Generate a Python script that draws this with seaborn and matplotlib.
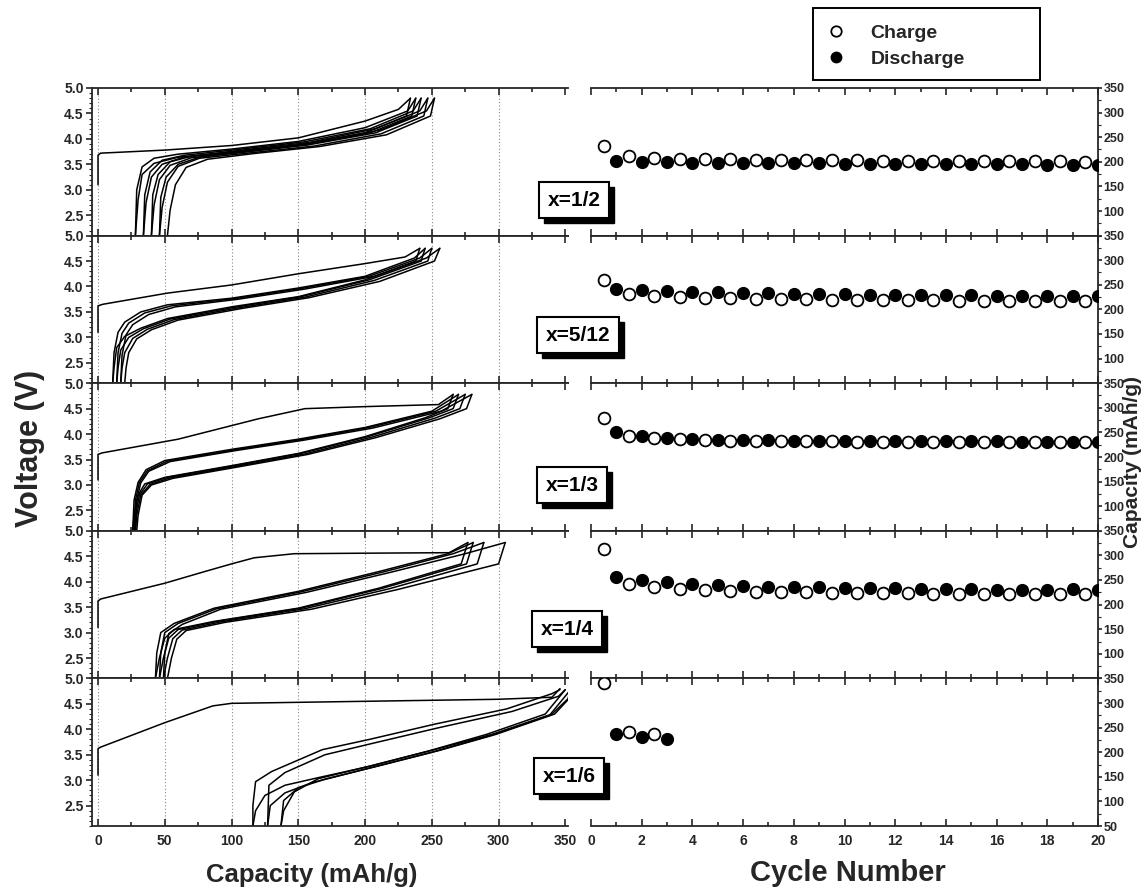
import matplotlib
matplotlib.use("Agg")
import matplotlib.pyplot as plt
from matplotlib.ticker import MultipleLocator, FixedLocator
from matplotlib.patches import Rectangle
import seaborn as sns

sns.set_style("ticks")
plt.rcParams['font.family'] = ['Liberation Sans', 'DejaVu Sans']
plt.rcParams['font.weight'] = 'bold'

# ---------------- data ----------------
panel_labels = ["x=1/2", "x=5/12", "x=1/3", "x=1/4", "x=1/6"]

# voltage profiles: list of curves per panel (first charge, then discharge/charge alternating)
cap_p1 = [
    [0, 0, 2, 50, 100, 150, 200, 225, 234],
    [234, 231, 200, 150, 100, 60, 42, 33, 30, 28],
    [28, 29, 33, 42, 60, 100, 150, 200, 232, 238],
    [238, 235, 204, 153, 103, 64, 48, 40, 36, 34],
    [34, 35, 39, 48, 65, 104, 154, 204, 236, 242],
    [242, 239, 208, 157, 107, 70, 54, 46, 42, 40],
    [40, 41, 45, 54, 70, 108, 158, 208, 241, 247],
    [247, 244, 212, 162, 112, 76, 60, 52, 48, 46],
    [46, 47, 51, 60, 76, 112, 162, 212, 246, 252],
    [252, 249, 216, 166, 116, 82, 66, 58, 54, 52],
]
volt_p1 = [
    [3.1, 3.68, 3.72, 3.78, 3.87, 4.02, 4.35, 4.58, 4.8],
    [4.8, 4.45, 4.12, 3.88, 3.74, 3.64, 3.52, 3.3, 2.8, 2.1],
    [2.1, 3.0, 3.45, 3.62, 3.7, 3.8, 3.95, 4.22, 4.55, 4.8],
    [4.8, 4.45, 4.12, 3.88, 3.74, 3.64, 3.5, 3.25, 2.75, 2.1],
    [2.1, 2.9, 3.35, 3.58, 3.68, 3.79, 3.94, 4.2, 4.55, 4.8],
    [4.8, 4.45, 4.12, 3.88, 3.73, 3.63, 3.48, 3.2, 2.7, 2.1],
    [2.1, 2.9, 3.3, 3.55, 3.66, 3.78, 3.93, 4.2, 4.55, 4.8],
    [4.8, 4.45, 4.1, 3.86, 3.72, 3.62, 3.46, 3.15, 2.65, 2.1],
    [2.1, 2.85, 3.25, 3.5, 3.64, 3.77, 3.92, 4.18, 4.55, 4.8],
    [4.8, 4.45, 4.08, 3.85, 3.71, 3.6, 3.44, 3.1, 2.6, 2.1],
]

cap_p2 = [
    [0, 0, 3.5, 52, 100, 150, 200, 230, 241],
    [241, 238, 200, 150, 100, 52, 32, 20, 14, 12, 11],
    [11, 12, 15, 20, 32, 52, 100, 150, 200, 237, 245],
    [245, 242, 203, 152, 102, 54, 34, 23, 17, 15, 14],
    [14, 15, 18, 23, 35, 55, 102, 152, 203, 241, 250],
    [250, 247, 207, 155, 105, 57, 37, 26, 20, 18, 17],
    [17, 18, 21, 26, 38, 58, 105, 155, 207, 246, 256],
    [256, 252, 211, 158, 108, 60, 40, 29, 23, 21, 20],
]
volt_p2 = [
    [3.1, 3.62, 3.65, 3.87, 4.03, 4.25, 4.45, 4.58, 4.75],
    [4.75, 4.5, 4.13, 3.8, 3.6, 3.37, 3.18, 3.02, 2.8, 2.4, 2.1],
    [2.1, 2.7, 3.1, 3.3, 3.5, 3.64, 3.77, 3.97, 4.2, 4.56, 4.75],
    [4.75, 4.5, 4.13, 3.8, 3.59, 3.36, 3.17, 3.0, 2.75, 2.4, 2.1],
    [2.1, 2.7, 3.08, 3.28, 3.48, 3.62, 3.76, 3.96, 4.2, 4.56, 4.75],
    [4.75, 4.5, 4.12, 3.79, 3.58, 3.35, 3.16, 2.98, 2.7, 2.4, 2.1],
    [2.1, 2.65, 3.05, 3.25, 3.45, 3.6, 3.75, 3.95, 4.2, 4.56, 4.75],
    [4.75, 4.5, 4.1, 3.78, 3.57, 3.34, 3.15, 2.97, 2.7, 2.4, 2.1],
]

cap_p3 = [
    [0, 0, 3, 60, 120, 155, 200, 255, 266],
    [266, 262, 245, 200, 150, 100, 50, 35, 30, 27, 26],
    [26, 27, 30, 36, 50, 100, 150, 200, 250, 270],
    [270, 266, 248, 202, 152, 102, 52, 37, 31, 28, 27],
    [27, 28, 31, 37, 52, 102, 152, 203, 253, 275],
    [275, 271, 252, 205, 155, 104, 54, 39, 32, 29, 28],
    [28, 29, 32, 38, 54, 104, 154, 206, 257, 280],
    [280, 276, 256, 208, 157, 106, 56, 40, 33, 30, 29],
]
volt_p3 = [
    [3.1, 3.6, 3.63, 3.9, 4.3, 4.5, 4.54, 4.58, 4.78],
    [4.78, 4.5, 4.32, 3.95, 3.62, 3.38, 3.15, 3.02, 2.8, 2.4, 2.1],
    [2.1, 2.7, 3.05, 3.3, 3.48, 3.7, 3.9, 4.13, 4.45, 4.78],
    [4.78, 4.5, 4.32, 3.95, 3.62, 3.38, 3.15, 3.02, 2.8, 2.4, 2.1],
    [2.1, 2.7, 3.05, 3.28, 3.47, 3.69, 3.89, 4.13, 4.45, 4.78],
    [4.78, 4.5, 4.31, 3.94, 3.61, 3.37, 3.14, 3.01, 2.8, 2.4, 2.1],
    [2.1, 2.7, 3.04, 3.27, 3.46, 3.68, 3.88, 4.12, 4.45, 4.78],
    [4.78, 4.5, 4.3, 3.93, 3.6, 3.36, 3.13, 3.0, 2.8, 2.4, 2.1],
]

cap_p4 = [
    [0, 0, 2, 50, 80, 100, 117, 147, 200, 263, 277],
    [277, 272, 210, 150, 87, 57, 50, 46, 43],
    [43, 44, 47, 57, 87, 150, 212, 262, 281],
    [281, 276, 213, 152, 89, 60, 53, 49, 46],
    [46, 47, 50, 60, 89, 152, 215, 266, 289],
    [289, 284, 218, 155, 92, 63, 56, 52, 49],
    [49, 50, 53, 63, 92, 156, 220, 275, 305],
    [305, 300, 225, 160, 95, 66, 59, 55, 52],
]
volt_p4 = [
    [3.1, 3.62, 3.66, 3.97, 4.2, 4.35, 4.47, 4.55, 4.56, 4.57, 4.77],
    [4.77, 4.35, 3.87, 3.48, 3.22, 3.06, 2.89, 2.5, 2.1],
    [2.1, 2.6, 3.0, 3.18, 3.48, 3.81, 4.21, 4.55, 4.77],
    [4.77, 4.35, 3.87, 3.48, 3.22, 3.06, 2.89, 2.5, 2.1],
    [2.1, 2.6, 3.0, 3.18, 3.47, 3.8, 4.2, 4.55, 4.77],
    [4.77, 4.35, 3.86, 3.47, 3.21, 3.05, 2.88, 2.5, 2.1],
    [2.1, 2.6, 2.98, 3.16, 3.46, 3.79, 4.19, 4.55, 4.77],
    [4.77, 4.35, 3.85, 3.46, 3.2, 3.04, 2.87, 2.5, 2.1],
]

cap_p5 = [
    [0, 0, 2, 50, 86, 100, 200, 300, 340, 346],
    [346, 340, 306, 252, 203, 168, 130, 118, 116, 116],
    [116, 118, 125, 140, 165, 203, 247, 291, 335, 350],
    [350, 345, 310, 255, 205, 170, 140, 128, 127],
    [127, 129, 140, 160, 205, 250, 293, 338, 354],
    [354, 352, 340, 295, 252, 207, 165, 147, 139, 137],
    [137, 139, 150, 170, 210, 255, 298, 342, 358],
]
volt_p5 = [
    [3.1, 3.62, 3.65, 4.13, 4.46, 4.51, 4.55, 4.59, 4.63, 4.8],
    [4.78, 4.7, 4.4, 4.1, 3.8, 3.6, 3.17, 2.97, 2.5, 2.1],
    [2.1, 2.4, 2.7, 2.9, 3.05, 3.27, 3.57, 3.9, 4.3, 4.78],
    [4.78, 4.65, 4.35, 4.03, 3.72, 3.5, 3.15, 2.9, 2.1],
    [2.1, 2.5, 2.75, 2.95, 3.25, 3.55, 3.87, 4.27, 4.78],
    [4.78, 4.6, 4.3, 3.9, 3.6, 3.3, 3.03, 2.77, 2.4, 2.1],
    [2.1, 2.6, 2.85, 3.02, 3.28, 3.58, 3.9, 4.3, 4.75],
]

caps = [cap_p1, cap_p2, cap_p3, cap_p4, cap_p5]
volts = [volt_p1, volt_p2, volt_p3, volt_p4, volt_p5]

# cycle performance
cycle_charge = [0.5, 1.5, 2.5, 3.5, 4.5, 5.5, 6.5, 7.5, 8.5, 9.5,
                10.5, 11.5, 12.5, 13.5, 14.5, 15.5, 16.5, 17.5, 18.5, 19.5]
cycle_discharge = [1, 2, 3, 4, 5, 6, 7, 8, 9, 10,
                   11, 12, 13, 14, 15, 16, 17, 18, 19, 20]

chg_p1 = [233, 212, 207, 206, 205, 205, 204, 204, 203, 203, 203, 202, 202, 202, 202, 201, 201, 201, 201, 200]
dis_p1 = [202, 199, 199, 198, 198, 198, 197, 197, 197, 196, 196, 196, 196, 195, 195, 195, 195, 194, 194, 193]
chg_p2 = [260, 231, 227, 225, 224, 223, 222, 221, 221, 220, 220, 219, 219, 219, 218, 218, 218, 217, 217, 217]
dis_p2 = [242, 240, 238, 236, 235, 234, 233, 232, 231, 231, 230, 230, 229, 229, 229, 228, 228, 228, 227, 227]
chg_p3 = [280, 243, 238, 236, 234, 233, 233, 232, 232, 232, 231, 231, 231, 231, 231, 230, 230, 230, 230, 230]
dis_p3 = [250, 242, 238, 236, 235, 234, 234, 233, 233, 233, 232, 232, 232, 232, 232, 232, 231, 231, 231, 231]
chg_p4 = [312, 242, 236, 232, 229, 228, 226, 226, 225, 224, 224, 223, 223, 222, 221, 221, 221, 222, 222, 221]
dis_p4 = [257, 249, 245, 242, 239, 237, 236, 235, 235, 234, 233, 233, 232, 232, 231, 230, 230, 230, 231, 230]
chg_p5 = [340, 241, 237]
dis_p5 = [237, 230, 226]

charges = [chg_p1, chg_p2, chg_p3, chg_p4, chg_p5]
discharges = [dis_p1, dis_p2, dis_p3, dis_p4, dis_p5]

volt_ticks = [2.5, 3.0, 3.5, 4.0, 4.5, 5.0]
cap_ticks = [0, 50, 100, 150, 200, 250, 300, 350]
cycle_ticks = [0, 2, 4, 6, 8, 10, 12, 14, 16, 18, 20]

# ---------------- figure ----------------
W, H = 1143, 896
fig = plt.figure(figsize=(W / 100, H / 100), dpi=100)

top_px, bot_px = 88, 826
ph = (bot_px - top_px) / 5
lx0, lx1 = 92, 568
rx0, rx1 = 591, 1098

def fx(px):
    return px / W

def fy(py):
    return 1 - py / H

tick_fs = 10
rtick_fs = 9
for i in range(5):
    y_top = top_px + i * ph
    axL = fig.add_axes([fx(lx0), fy(y_top + ph), fx(lx1) - fx(lx0), ph / H])
    axR = fig.add_axes([fx(rx0), fy(y_top + ph), fx(rx1) - fx(rx0), ph / H])

    # left: voltage profiles
    for cx, cv in zip(caps[i], volts[i]):
        sns.lineplot(x=cx, y=cv, sort=False, estimator=None, color='black',
                     linewidth=1.1, ax=axL)
    axL.set_xlim(-4.5, 352)
    axL.set_ylim(2.1, 5.0)
    axL.xaxis.set_major_locator(FixedLocator(cap_ticks))
    axL.xaxis.set_minor_locator(MultipleLocator(25))
    axL.yaxis.set_major_locator(FixedLocator(volt_ticks))
    axL.yaxis.set_minor_locator(MultipleLocator(0.1))
    axL.set_yticklabels([f"{v:.1f}" for v in volt_ticks], fontsize=tick_fs, fontweight='bold')
    axL.grid(axis='x', which='major', linestyle=(0, (1, 2)), color='#888888', linewidth=0.8)
    for gl in axL.get_xgridlines()[-1:]:
        gl.set_visible(False)
    axL.spines['right'].set_visible(False)
    for s in ['left', 'top', 'bottom']:
        axL.spines[s].set_linewidth(1.3)
    axL.tick_params(axis='x', which='both', direction='in', top=True, bottom=True, width=1.2)
    axL.tick_params(axis='x', which='major', length=5)
    axL.tick_params(axis='x', which='minor', length=3)
    axL.tick_params(axis='y', which='major', direction='out', length=4, width=1.2, pad=2)
    axL.tick_params(axis='y', which='minor', direction='out', length=2, width=0.8)
    axL.set_xlabel("")
    axL.set_ylabel("")
    if i < 4:
        axL.set_xticklabels([])
    else:
        axL.set_xticklabels([str(c) for c in cap_ticks], fontsize=tick_fs, fontweight='bold')
        axL.tick_params(axis='x', pad=6)

    # right: cycling
    sns.scatterplot(x=cycle_charge[:len(charges[i])], y=charges[i], marker='o', s=72,
                    color='white', edgecolor='black', linewidth=1.3, ax=axR, zorder=3)
    sns.scatterplot(x=cycle_discharge[:len(discharges[i])], y=discharges[i], marker='o', s=72,
                    color='black', edgecolor='black', linewidth=1.0, ax=axR, zorder=4)
    axR.set_xlim(0, 20)
    axR.set_ylim(50, 350)
    axR.yaxis.tick_right()
    axR.xaxis.set_major_locator(FixedLocator(cycle_ticks))
    axR.xaxis.set_minor_locator(MultipleLocator(1))
    rt = [100, 150, 200, 250, 300, 350] if i < 4 else [50, 100, 150, 200, 250, 300, 350]
    axR.yaxis.set_major_locator(FixedLocator(rt))
    axR.yaxis.set_minor_locator(MultipleLocator(25))
    axR.set_yticklabels([str(v) for v in rt], fontsize=rtick_fs, fontweight='bold')
    axR.spines['left'].set_visible(False)
    for s in ['right', 'top', 'bottom']:
        axR.spines[s].set_linewidth(1.3)
    axR.tick_params(axis='x', which='both', direction='in', top=True, bottom=True, width=1.2)
    axR.tick_params(axis='x', which='major', length=5)
    axR.tick_params(axis='x', which='minor', length=3)
    axR.tick_params(axis='y', which='major', direction='out', length=3, width=1.2, pad=1,
                    right=True, left=False)
    axR.tick_params(axis='y', which='minor', direction='out', length=2, width=0.8,
                    right=True, left=False)
    axR.set_xlabel("")
    axR.set_ylabel("")
    if i < 4:
        axR.set_xticklabels([])
    else:
        axR.set_xticklabels([str(c) for c in cycle_ticks], fontsize=tick_fs, fontweight='bold')
        axR.tick_params(axis='x', pad=6)

# panel labels (white boxes) with a black drop-shadow rectangle behind them
label_centers = [(574, 200), (578, 335), (572, 485), (567, 629), (569, 776)]
label_texts = []
for lab, (cx, cy) in zip(panel_labels, label_centers):
    t = fig.text(fx(cx), fy(cy), lab, ha='center', va='center', fontsize=15,
                 fontweight='bold', color='black', zorder=6,
                 bbox=dict(boxstyle='square,pad=0.4', fc='white', ec='black', lw=1.5))
    label_texts.append(t)

fig.canvas.draw()
renderer = fig.canvas.get_renderer()
for t in label_texts:
    bb = t.get_bbox_patch().get_window_extent(renderer)
    fig.add_artist(Rectangle(((bb.x0 + 5) / W, (bb.y0 - 5) / H), bb.width / W, bb.height / H,
                             transform=fig.transFigure, fc='black', ec='black', zorder=5))

# axis titles
fig.text(fx(30), fy(448), "Voltage (V)", rotation=90, ha='center', va='center',
         fontsize=22, fontweight='bold')
fig.text(fx(1132), fy(462), "Capacity (mAh/g)", rotation=90, ha='center', va='center',
         fontsize=15, fontweight='bold')
fig.text(fx(312), fy(875), "Capacity (mAh/g)", ha='center', va='center',
         fontsize=18.5, fontweight='bold')
fig.text(fx(848), fy(873), "Cycle Number", ha='center', va='center',
         fontsize=21, fontweight='bold')

# legend (frame drawn as a figure rectangle)
h1 = plt.Line2D([], [], marker='o', linestyle='none', markersize=7.5,
                markerfacecolor='white', markeredgecolor='black', markeredgewidth=1.3)
h2 = plt.Line2D([], [], marker='o', linestyle='none', markersize=7.5,
                markerfacecolor='black', markeredgecolor='black')
fig.legend([h1, h2], ["Charge", "Discharge"], loc='center left',
           bbox_to_anchor=(fx(826), fy(46)), frameon=False,
           prop={'weight': 'bold', 'size': 14},
           handlelength=1.0, handletextpad=1.3, labelspacing=0.4,
           borderpad=0, borderaxespad=0)
fig.add_artist(Rectangle((fx(813), fy(80)), fx(1040) - fx(813), fy(8) - fy(80),
                         transform=fig.transFigure, fill=False, ec='black', lw=1.4))

fig.savefig("out.png", dpi=100)
